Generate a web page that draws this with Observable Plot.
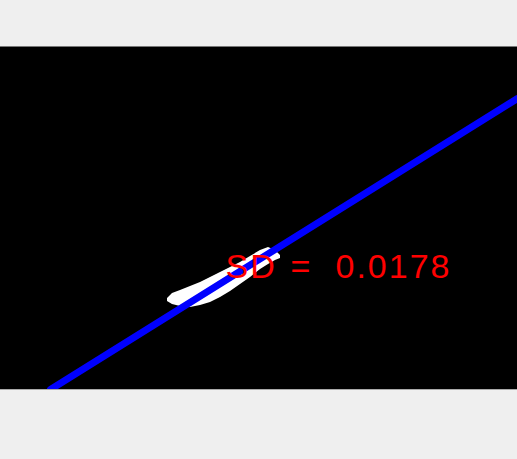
<!DOCTYPE html>
<html>
<head>
<meta charset="utf-8">
<script src="https://cdn.jsdelivr.net/npm/d3@7"></script>
<script src="https://cdn.jsdelivr.net/npm/@observablehq/plot@0.6"></script>
<style>
  body { margin: 0; background: #efefef; }
  #chart { padding-top: 46px; }
  #chart svg { display: block; background: #000; border-top: 1px solid #777; border-bottom: 1px solid #aaa; }
  #chart svg text { letter-spacing: 2px; }
</style>
</head>
<body>
<div id="chart"></div>
<script>
// white point cloud, outline of the band (x, lower edge, upper edge)
const cloudX      = [167, 172, 180, 190, 200, 210, 220, 230, 240, 250, 260, 268, 275, 280];
const cloudBottom = [88, 85, 83, 82, 84, 87, 92, 98, 105, 112, 120, 125, 129, 131];
const cloudTop    = [91, 96, 99, 103, 107, 112, 117, 122, 127, 133, 139, 142, 139, 134];

// fitted line
const fitX = [50, 517];
const fitY = [0, 291];

const sdName = "SD";
const sdEq = "=";
const sdValue = "0.0178";

const cloud = cloudX.map((x, i) => ({x, y1: cloudBottom[i], y2: cloudTop[i]}));
const fit = fitX.map((x, i) => ({x, y: fitY[i]}));

const textStyle = {fill: "#ff0000", fontSize: 34, fontFamily: "Liberation Sans", textAnchor: "start", lineAnchor: "bottom"};

const chart = Plot.plot({
  width: 517,
  height: 342,
  margin: 0,
  x: {domain: [0, 517], axis: null},
  y: {domain: [0, 342], axis: null},
  style: {background: "#000", overflow: "hidden"},
  marks: [
    Plot.areaY(cloud, {x: "x", y1: "y1", y2: "y2", fill: "#fff"}),
    Plot.line(fit, {x: "x", y: "y", stroke: "#0000ff", strokeWidth: 7}),
    Plot.text([sdName], {x: 225, y: 112, text: d => d, ...textStyle}),
    Plot.text([sdEq], {x: 290, y: 112, text: d => d, ...textStyle}),
    Plot.text([sdValue], {x: 335, y: 112, text: d => d, ...textStyle})
  ]
});
d3.select("#chart").append(() => chart);
</script>
</body>
</html>
